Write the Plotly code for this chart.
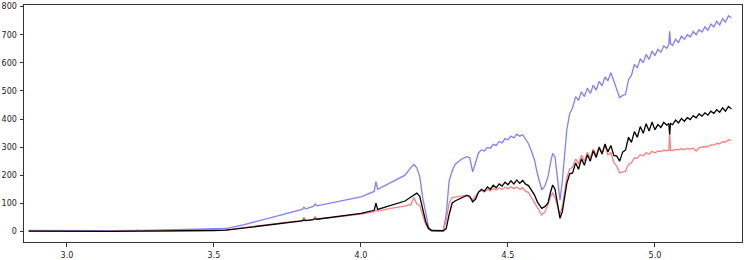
import plotly.graph_objects as go

# wavelength grid (micron), shared by all three spectra
wavelength = [
    2.87, 2.95, 3.05, 3.15, 3.235, 3.24, 3.245, 3.30, 3.40, 3.50, 3.54,
    3.60, 3.65, 3.70, 3.75, 3.80, 3.806, 3.812, 3.838, 3.844, 3.85, 3.90, 3.95, 4.00,
    4.045, 4.051, 4.057, 4.10, 4.15, 4.17, 4.18, 4.19, 4.20, 4.21, 4.22, 4.23, 4.24,
    4.28, 4.29, 4.30, 4.31, 4.32, 4.34, 4.36, 4.37, 4.38, 4.39,
    4.40, 4.41, 4.42, 4.43, 4.44, 4.45, 4.46, 4.47, 4.48, 4.49, 4.50, 4.51, 4.52,
    4.53, 4.54, 4.55, 4.56, 4.57, 4.58,
    4.59, 4.60, 4.615, 4.625, 4.636, 4.645, 4.652, 4.66, 4.668, 4.677, 4.685, 4.694, 4.70,
    4.71, 4.72, 4.73, 4.74, 4.75, 4.76, 4.77, 4.78, 4.79, 4.80, 4.81, 4.82, 4.83,
    4.84, 4.85, 4.86, 4.87, 4.88, 4.89, 4.90, 4.91, 4.92, 4.93, 4.94, 4.95, 4.96,
    4.97, 4.98, 4.99, 5.00,
    5.01, 5.02, 5.03, 5.04, 5.047, 5.05, 5.053, 5.06, 5.07, 5.08, 5.09, 5.10, 5.11,
    5.12, 5.13, 5.14, 5.15, 5.16, 5.17, 5.18, 5.19, 5.20, 5.21, 5.22, 5.23, 5.24,
    5.25, 5.26,
]

flux_blue = [
    3, 2, 1, 2, 3, 4, 3, 4, 6, 8, 10,
    23, 37, 51, 65, 78, 86, 80, 89, 97, 91, 102, 112, 123,
    142, 177, 150, 172, 200, 228, 238, 226, 195, 120, 60, 15, 3,
    2, 60, 180, 215, 238, 256, 266, 262, 212, 245,
    280, 290, 286, 299, 296, 310, 306, 320, 315, 330, 326, 339, 333,
    346, 339, 344, 330, 312, 285,
    255, 205, 148, 160, 194, 245, 278, 265, 200, 111, 180, 289, 360,
    420, 440, 480, 466, 497, 480, 510, 491, 520, 503, 534, 518, 550,
    536, 565, 535, 512, 476, 484, 488, 540, 555, 594, 583, 615, 600,
    630, 612, 642, 626,
    648, 638, 660, 652, 665, 712, 668, 662, 684, 672, 695, 684, 700,
    692, 712, 700, 718, 710, 728, 716, 738, 728, 748, 735, 757, 745,
    768, 760,
]

flux_red = [
    1, 0, 0, 1, 1, 5, 1, 1, 2, 3, 4,
    13, 20, 27, 33, 38, 50, 39, 42, 52, 44, 49, 56, 61,
    70, 76, 72, 82, 90, 96, 120, 97, 92, 55, 25, 8, 2,
    2, 40, 100, 120, 122, 125, 129, 120, 112, 125,
    140, 145, 140, 149, 144, 153, 147, 155, 149, 157, 151, 159, 152,
    158, 150, 155, 143, 138, 120,
    100, 80, 58, 68, 95, 125, 136, 120, 90, 60, 90, 150, 190,
    222, 228, 258, 239, 271, 250, 281, 261, 293, 272, 301, 279, 305,
    272, 280, 245, 232, 208, 211, 214, 239, 244, 262, 260, 273, 269,
    280, 275, 285, 279,
    286, 284, 289, 287, 289, 350, 289, 288, 292, 290, 294, 291, 295,
    293, 296, 286, 297, 299, 302, 301, 308, 307, 313, 312, 319, 318,
    326, 324,
]

flux_black = [
    1, 0, 0, 0, 1, 1, 1, 1, 2, 3, 4,
    12, 19, 26, 33, 37, 41, 38, 42, 45, 43, 50, 57, 64,
    75, 100, 78, 92, 108, 122, 130, 136, 125, 75, 35, 10, 3,
    2, 10, 60, 100, 108, 118, 128, 125, 105, 115,
    140, 150, 143, 158, 150, 164, 155, 169, 161, 175, 166, 180, 169,
    183, 171, 181, 168, 163, 145,
    130, 105, 82, 88, 100, 140, 165, 150, 100, 46, 70, 123, 170,
    205, 208, 243, 221, 258, 235, 273, 250, 287, 263, 299, 275, 311,
    283, 306, 270, 268, 250, 282, 290, 335, 317, 355, 335, 373, 349,
    383, 357, 389, 362,
    380, 370, 388, 378, 384, 345, 384, 380, 396, 386, 402, 392, 405,
    398, 412, 404, 418, 410, 422, 414, 428, 420, 433, 424, 440, 428,
    445, 436,
]

x_ticks = [3.0, 3.5, 4.0, 4.5, 5.0]
y_ticks = [0, 100, 200, 300, 400, 500, 600, 700, 800]

fig = go.Figure()
fig.add_trace(go.Scatter(x=wavelength, y=flux_blue, mode="lines",
                         line=dict(color="#7f7fff", width=1.3)))
fig.add_trace(go.Scatter(x=wavelength, y=flux_red, mode="lines",
                         line=dict(color="#ff7f7f", width=1.3)))
fig.add_trace(go.Scatter(x=wavelength, y=flux_black, mode="lines",
                         line=dict(color="black", width=1.3)))

axis_style = dict(showgrid=False, zeroline=False, showline=True, mirror=True,
                  automargin=False,
                  linecolor="#333", linewidth=1, ticks="outside", ticklen=3.5,
                  tickcolor="#333", tickfont=dict(family="DejaVu Sans", size=8, color="#222"))

fig.update_layout(
    width=747, height=260,
    margin=dict(l=24, r=5, t=5, b=18),
    paper_bgcolor="white", plot_bgcolor="white",
    showlegend=False,
    xaxis=dict(range=[2.854, 5.296], tickvals=x_ticks, tickformat=".1f",
               ticklabelstandoff=2, **axis_style),
    yaxis=dict(range=[-38, 806], tickvals=y_ticks, ticklabelstandoff=1, **axis_style),
)

# drop the page's default body margin so the figure sits at the window corner
fig.write_html("out.html", config={"displayModeBar": False},
               post_script="document.body.style.margin='0';")
